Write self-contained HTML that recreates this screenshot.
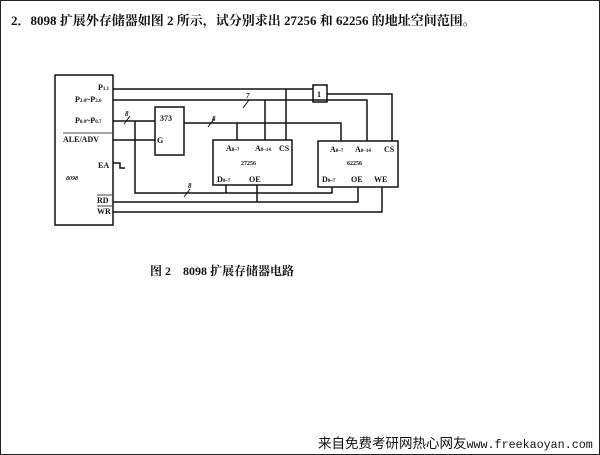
<!DOCTYPE html>
<html><head><meta charset="utf-8"><style>
body{margin:0;width:600px;height:455px;background:#fff;overflow:hidden;position:relative;font-family:"Liberation Serif","Noto Serif CJK SC",serif;}
.t{position:absolute;white-space:nowrap;color:#111}
</style></head><body>
<div style="position:absolute;left:0;top:0;width:598px;height:453px;border:1px solid #222"></div>
<div class="t" style="left:11px;top:10px;font-size:13px;font-weight:bold">2．8098 扩展外存储器如图 2 所示，试分别求出 27256 和 62256 的地址空间范围。</div>
<svg width="600" height="455" style="position:absolute;left:0;top:0" font-family="Liberation Serif, serif" font-weight="bold" fill="none" stroke="#111" stroke-width="1.5">
<rect x="55" y="75" width="58" height="150"/>
<rect x="155" y="107" width="29" height="48"/>
<rect x="213" y="140" width="79" height="45"/>
<rect x="318" y="141" width="80" height="46"/>
<rect x="313" y="85" width="14" height="17"/>
<polyline points="113,89 313,89"/>
<polyline points="327,94 392,94 392,141"/>
<polyline points="286,89 286,140"/>
<polyline points="113,100 367,100 367,141"/>
<polyline points="265,100 265,140"/>
<polyline points="184,123 341,123 341,141"/>
<polyline points="237,123 237,140"/>
<polyline points="113,121 155,121"/>
<polyline points="135,121 135,193 332,193 332,187"/>
<polyline points="226,185 226,193"/>
<polyline points="113,140 155,140"/>
<polyline points="113,202 358,202 358,187"/>
<polyline points="257,185 257,202"/>
<polyline points="113,212 382,212 382,187"/>
<polyline points="113,163 120,163 120,168 125,168"/>
<g stroke-width="1"><line x1="243" y1="108" x2="249" y2="100"/><line x1="208" y1="127" x2="214" y2="119"/><line x1="124" y1="124" x2="130" y2="116"/><line x1="184" y1="197" x2="190" y2="189"/></g>
<g fill="#111" stroke="none" font-size="8">
<text x="98" y="90">P<tspan font-size="5">1.1</tspan></text>
<text x="75" y="102">P<tspan font-size="5">2.0</tspan>~P<tspan font-size="5">2.6</tspan></text>
<text x="75" y="123">P<tspan font-size="5">0.0</tspan>~P<tspan font-size="5">0.7</tspan></text>
<text x="63" y="142">ALE/ADV</text>
<line x1="63" y1="133" x2="112" y2="133" stroke="#111" stroke-width="0.8"/>
<text x="98" y="168">EA</text>
<text x="66" y="180" font-size="6" font-style="italic">8098</text>
<text x="97" y="203">RD</text><line x1="97" y1="195" x2="112" y2="195" stroke="#111" stroke-width="0.8"/>
<text x="97" y="214">WR</text><line x1="97" y1="206" x2="112" y2="206" stroke="#111" stroke-width="0.8"/>
<text x="160" y="121">373</text>
<text x="157" y="143">G</text>
<text x="317" y="97">1</text>
<text x="226" y="151">A<tspan font-size="5">0~7</tspan></text>
<text x="255" y="151">A<tspan font-size="5">8~14</tspan></text>
<text x="279" y="151">CS</text>
<text x="241" y="165" font-size="6">27256</text>
<text x="217" y="182">D<tspan font-size="5">0~7</tspan></text>
<text x="249" y="182">OE</text>
<text x="330" y="152">A<tspan font-size="5">0~7</tspan></text>
<text x="355" y="152">A<tspan font-size="5">8~14</tspan></text>
<text x="384" y="152">CS</text>
<text x="347" y="165" font-size="6">62256</text>
<text x="322" y="182">D<tspan font-size="5">0~7</tspan></text>
<text x="351" y="182">OE</text>
<text x="374" y="182">WE</text>
<text x="246" y="98" font-size="7" font-style="italic">7</text>
<text x="212" y="121" font-size="7" font-style="italic">8</text>
<text x="125" y="116" font-size="7" font-style="italic">8</text>
<text x="188" y="188" font-size="7" font-style="italic">8</text>
</g>
</svg>
<div class="t" style="left:150px;top:262px;font-size:12px;font-weight:bold">图 2　8098 扩展存储器电路</div>
<div class="t" style="left:318px;top:434px;font-size:13.5px;font-family:'Noto Sans CJK SC',sans-serif;line-height:16px">来自免费考研网热心网友<span style="font-family:'Liberation Mono',monospace;font-size:11.7px">www.freekaoyan.com</span></div>
</body></html>
